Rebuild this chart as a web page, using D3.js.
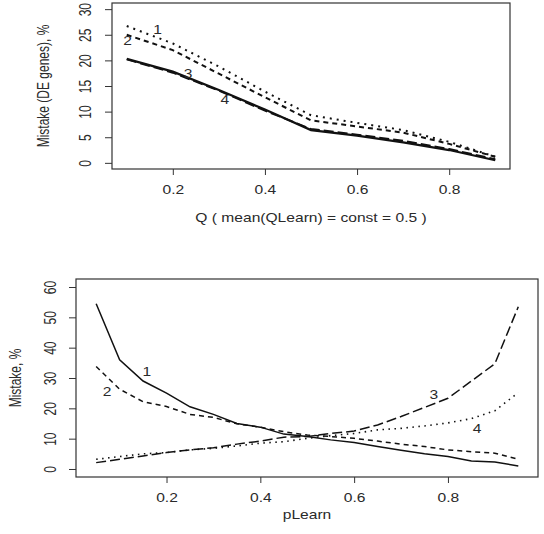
<!DOCTYPE html>
<html>
<head>
<meta charset="utf-8">
<script src="https://cdn.jsdelivr.net/npm/d3@7"></script>
<style>
  body { margin: 0; background: #fff; }
  text { font-family: "Liberation Sans", Arial, sans-serif; font-size: 12px; fill: #2a2a2a; }
</style>
</head>
<body>
<svg id="chart" width="544" height="534"></svg>
<script>
// top panel: mistake vs Q
const qVals = [0.1, 0.2, 0.3, 0.4, 0.5, 0.6, 0.7, 0.8, 0.9];
const qMistake1 = [26.7, 23.3, 18.8, 13.9, 9.3, 7.8, 6.4, 4.1, 1.2];
const qMistake2 = [25.0, 22.0, 17.4, 12.8, 8.3, 7.1, 5.9, 3.7, 1.2];
const qMistake3 = [20.2, 17.6, 14.1, 10.2, 6.6, 5.5, 4.3, 2.7, 0.7];
const qMistake4 = [20.3, 17.8, 14.2, 10.4, 6.4, 5.3, 4.0, 2.5, 0.5];

// bottom panel: mistake vs pLearn
const pVals = [0.05, 0.1, 0.15, 0.2, 0.25, 0.3, 0.35, 0.4, 0.45, 0.5,
               0.55, 0.6, 0.65, 0.7, 0.75, 0.8, 0.85, 0.9, 0.95];
const pMistake1 = [54.5, 36, 29, 25, 20.5, 18, 15, 13.8, 11.5, 10.7, 9.6, 8.7, 7.4, 6.2, 5, 4.1, 2.6, 2.3, 1];
const pMistake2 = [33.8, 26.3, 22.2, 20.6, 18, 17, 14.9, 13.8, 12.3, 11.2, 10.7, 10.1, 9.2, 8.2, 7.4, 6.3, 5.7, 5.2, 3.2];
const pMistake3 = [2.1, 3.2, 4.3, 5.4, 6.3, 7, 8.2, 9.2, 10.5, 10.7, 11.7, 12.5, 14.5, 17.3, 20.3, 23.3, 29, 34.7, 53.5];
const pMistake4 = [3.2, 4.1, 5, 5.4, 6.3, 6.8, 7.6, 8.5, 9, 10.1, 11, 11.7, 12.9, 13.4, 14.2, 15.2, 16.6, 19.2, 25.2];

const xTicks = [0.2, 0.4, 0.6, 0.8];
const topYTicks = [0, 5, 10, 15, 20, 25, 30];
const botYTicks = [0, 10, 20, 30, 40, 50, 60];

const svg = d3.select("#chart");
const STRETCH = 1.3; // the reference is stretched sideways

const topPanel = {
  box: {x0: 112, x1: 510, y0: 3, y1: 169},
  xDomain: [0.068, 0.932], yDomain: [-1.2, 31.2],
  yTicks: topYTicks, xs: qVals,
  series: [
    {vals: qMistake1, dash: "2,5", w: 2},
    {vals: qMistake2, dash: "5,4", w: 2},
    {vals: qMistake3, dash: "10,4", w: 2},
    {vals: qMistake4, dash: null, w: 2.2}
  ],
  labels: [["1", 0.167, 26.0], ["2", 0.102, 23.9], ["3", 0.233, 17.4], ["4", 0.313, 12.4]],
  xTitle: "Q ( mean(QLearn) = const = 0.5 )", xTitleY: 218,
  yTitle: "Mistake (DE genes), %", yTitleX: 43, yLabelOff: 27
};

const botPanel = {
  box: {x0: 76, x1: 538, y0: 279, y1: 477},
  xDomain: [0.007, 0.992], yDomain: [-2.64, 62.64],
  yTicks: botYTicks, xs: pVals,
  series: [
    {vals: pMistake1, dash: null, w: 1.5},
    {vals: pMistake2, dash: "5,4", w: 1.5},
    {vals: pMistake3, dash: "10,4", w: 1.5},
    {vals: pMistake4, dash: "1.5,4.5", w: 1.6}
  ],
  labels: [["1", 0.158, 32.1], ["2", 0.073, 25.5], ["3", 0.77, 24.6], ["4", 0.862, 13.4]],
  xTitle: "pLearn", xTitleY: 515,
  yTitle: "Mistake, %", yTitleX: 15, yLabelOff: 26
};

const drawPanel = (p) => {
  const b = p.box;
  const x = d3.scaleLinear().domain(p.xDomain).range([b.x0, b.x1]);
  const y = d3.scaleLinear().domain(p.yDomain).range([b.y1, b.y0]);

  // lines
  const line = d3.line().x(d => x(d[0])).y(d => y(d[1]));
  p.series.forEach(s => {
    svg.append("path")
      .datum(p.xs.map((v, i) => [v, s.vals[i]]))
      .attr("d", line)
      .attr("fill", "none")
      .attr("stroke", "#111")
      .attr("stroke-width", s.w)
      .attr("stroke-dasharray", s.dash);
  });

  // curve numbers
  p.labels.forEach(l => {
    svg.append("text")
      .attr("transform", `translate(${x(l[1])},${y(l[2])}) scale(${STRETCH},1)`)
      .attr("text-anchor", "middle")
      .attr("dominant-baseline", "central")
      .attr("fill", "#333")
      .text(l[0]);
  });

  // box
  svg.append("rect")
    .attr("x", b.x0).attr("y", b.y0)
    .attr("width", b.x1 - b.x0).attr("height", b.y1 - b.y0)
    .attr("fill", "none").attr("stroke", "#333").attr("stroke-width", 1.2);

  // axes
  const xAxis = d3.axisBottom(x).tickValues(xTicks).tickSize(6).tickSizeOuter(0)
    .tickFormat(d3.format(".1f"));
  const gx = svg.append("g")
    .attr("transform", "translate(0," + b.y1 + ")")
    .call(xAxis);
  gx.select(".domain").remove();
  gx.selectAll("line").attr("stroke", "#333");
  gx.selectAll("text")
    .attr("y", null).attr("dy", null)
    .attr("dominant-baseline", "central")
    .attr("transform", `translate(0,21) scale(${STRETCH},1)`)
    .style("font-size", "12px").style("font-family", null);

  const yAxis = d3.axisLeft(y).tickValues(p.yTicks).tickSize(7).tickSizeOuter(0);
  const gy = svg.append("g")
    .attr("transform", "translate(" + b.x0 + ",0)")
    .call(yAxis);
  gy.select(".domain").remove();
  gy.selectAll("line").attr("stroke", "#333");
  gy.selectAll("text")
    .attr("x", null).attr("dy", null)
    .attr("text-anchor", "middle")
    .attr("dominant-baseline", "central")
    .attr("transform", `translate(${-p.yLabelOff},0) scale(${STRETCH},1) rotate(-90)`)
    .style("font-size", "12px").style("font-family", null);

  // titles
  svg.append("text")
    .attr("transform", `translate(${(b.x0 + b.x1) / 2},${p.xTitleY}) scale(${STRETCH},1)`)
    .attr("text-anchor", "middle")
    .attr("dominant-baseline", "central")
    .text(p.xTitle);

  svg.append("text")
    .attr("transform", `translate(${p.yTitleX},${(b.y0 + b.y1) / 2}) scale(${STRETCH},1) rotate(-90)`)
    .attr("text-anchor", "middle")
    .attr("dominant-baseline", "central")
    .text(p.yTitle);
};

drawPanel(topPanel);
drawPanel(botPanel);
</script>
</body>
</html>
